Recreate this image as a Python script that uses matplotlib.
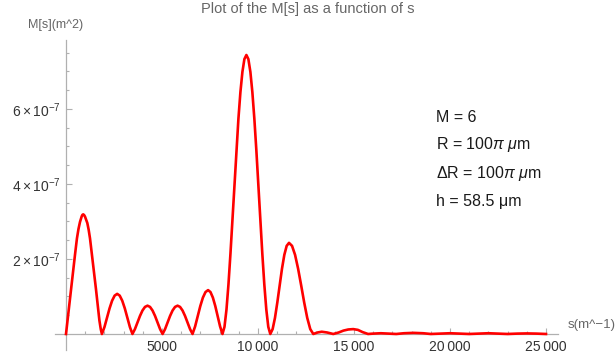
import numpy as np
import matplotlib
matplotlib.use("Agg")
import matplotlib.pyplot as plt
from matplotlib.ticker import FixedLocator, FixedFormatter

plt.rcParams['font.family'] = ['Liberation Sans', 'DejaVu Sans']
plt.rcParams['mathtext.fontset'] = 'custom'
plt.rcParams['mathtext.rm'] = 'Liberation Sans'
plt.rcParams['mathtext.it'] = 'Liberation Sans:italic'
plt.rcParams['mathtext.bf'] = 'Liberation Sans:bold'

# ---- data (s in m^-1, M in units of 1e-7 m^2) ----
s_vals = [
    # lobe 1
    0, 90, 175, 270, 365, 470, 570, 650, 730, 820, 860, 900, 945, 990, 1110, 1180,
    1250, 1350, 1460, 1560, 1650, 1740, 1810, 1870,
    # lobe 2
    2003, 2135, 2268, 2400, 2533, 2665, 2798, 2930, 3063, 3195, 3328, 3460,
    # lobe 3
    3591, 3722, 3853, 3983, 4114, 4245, 4376, 4507, 4638, 4768, 4899, 5030,
    # lobe 4
    5160, 5290, 5420, 5550, 5680, 5810, 5940, 6070, 6200, 6330, 6460, 6590,
    # lobe 5
    6725, 6860, 6995, 7130, 7265, 7400, 7525, 7650, 7775, 7900, 8025, 8150,
    # main lobe
    8254, 8358, 8461, 8565, 8669, 8773, 8876, 8980, 9084, 9188, 9291, 9395,
    9499, 9603, 9706, 9810, 9914, 10018, 10121, 10225, 10329, 10433, 10536, 10640,
    # lobe 7
    10762, 10884, 11006, 11128, 11249, 11371, 11493, 11615,
    11773, 11931, 12089, 12247, 12406, 12564, 12722, 12880,
    # tail
    13100, 13320, 13600, 13920, 14200, 14450, 14700, 14960, 15200, 15450,
    15730, 16000, 16400, 16800, 17200, 17600, 18100, 18600, 19000, 19500,
    20000, 20500, 21000, 21500, 22000, 22500, 23000, 23500, 24000, 24500, 25000,
]
m_vals = [
    0, 0.40, 0.77, 1.22, 1.66, 2.12, 2.55, 2.80, 2.99, 3.14, 3.18, 3.19, 3.17, 3.13, 2.96, 2.78,
    2.55, 2.12, 1.66, 1.20, 0.77, 0.36, 0.13, 0,
    0.185, 0.434, 0.682, 0.887, 1.023, 1.07, 1.023, 0.887, 0.682, 0.434, 0.185, 0,
    0.131, 0.307, 0.481, 0.626, 0.722, 0.755, 0.722, 0.626, 0.481, 0.307, 0.131, 0,
    0.131, 0.307, 0.481, 0.626, 0.722, 0.755, 0.722, 0.626, 0.481, 0.307, 0.131, 0,
    0.202, 0.475, 0.745, 0.970, 1.118, 1.17, 1.118, 0.970, 0.745, 0.475, 0.202, 0,
    0.19, 0.65, 1.32, 2.14, 3.05, 3.99, 4.90, 5.74, 6.45, 6.99, 7.33, 7.44,
    7.33, 6.99, 6.45, 5.74, 4.90, 3.99, 3.05, 2.14, 1.32, 0.65, 0.19, 0,
    0.13, 0.43, 0.84, 1.30, 1.74, 2.11, 2.35, 2.43,
    2.35, 2.11, 1.74, 1.30, 0.84, 0.43, 0.13, 0,
    0.04, 0.06, 0.04, 0, 0.04, 0.09, 0.12, 0.13, 0.11, 0.05,
    0, 0.01, 0.02, 0.01, 0, 0.02, 0.03, 0.02, 0, 0.01,
    0.02, 0.01, 0, 0.01, 0.02, 0.01, 0, 0.01, 0.015, 0.01, 0,
]
x_major = [5000, 10000, 15000, 20000, 25000]
x_labels = ["5000", "10\u2009000", "15\u2009000", "20\u2009000", "25\u2009000"]
y_major = [2e-7, 4e-7, 6e-7]
y_labels = [r"$2\times10^{-7}$", r"$4\times10^{-7}$", r"$6\times10^{-7}$"]
title = "Plot of the M[s] as a function of s"
xlab = "s(m^\u22121)"
ylab = "M[s](m^2)"
notes = ["M = 6", r"R = 100$\pi$ $\mu$m", r"$\Delta$R = 100$\pi$ $\mu$m", "h = 58.5 \u03bcm"]

W, H = 615, 363
fig = plt.figure(figsize=(W / 100, H / 100), dpi=100)
ax = fig.add_axes([55 / W, (H - 350) / H, 503 / W, 310 / H])

s = np.array(s_vals, dtype=float)
m = np.array(m_vals, dtype=float) * 1e-7
ax.plot(s, m, color='#ff0000', lw=1.9, solid_joinstyle='round', zorder=3)

ax.set_xlim(-573, 25625)
ax.set_ylim(-0.427e-7, 7.84e-7)

axcol = '#b0b0b0'
for side in ['top', 'right']:
    ax.spines[side].set_visible(False)
ax.spines['left'].set_position(('data', 0))
ax.spines['bottom'].set_position(('data', 0))
for side in ['left', 'bottom']:
    ax.spines[side].set_color(axcol)
    ax.spines[side].set_linewidth(0.9)

ax.xaxis.set_major_locator(FixedLocator(x_major))
ax.xaxis.set_major_formatter(FixedFormatter(x_labels))
ax.xaxis.set_minor_locator(FixedLocator([v for v in range(1000, 26000, 1000) if v % 5000 != 0]))
ax.yaxis.set_major_locator(FixedLocator(y_major))
ax.yaxis.set_major_formatter(FixedFormatter(y_labels))
ax.yaxis.set_minor_locator(FixedLocator([k * 0.5e-7 for k in range(1, 16) if k % 4 != 0]))

ax.tick_params(which='both', direction='in', color=axcol, width=0.8)
ax.tick_params(which='major', length=4, labelsize=10, labelcolor='#333333', pad=4)
ax.tick_params(which='minor', length=2.3)

fig.text(308 / W, 1 - 9 / H, title, ha='center', va='center', fontsize=10.5, color='#666666')
fig.text(56 / W, 1 - 25 / H, ylab, ha='center', va='center', fontsize=9, color='#666666')
fig.text(568 / W, 1 - 325 / H, xlab, ha='left', va='center', fontsize=9.5, color='#666666')

ys = [117, 145, 173, 201]
for txt, yy in zip(notes, ys):
    fig.text(436 / W, 1 - yy / H, txt, ha='left', va='center', fontsize=11.5, color='#1a1a1a')

fig.savefig('out.png', dpi=100)
